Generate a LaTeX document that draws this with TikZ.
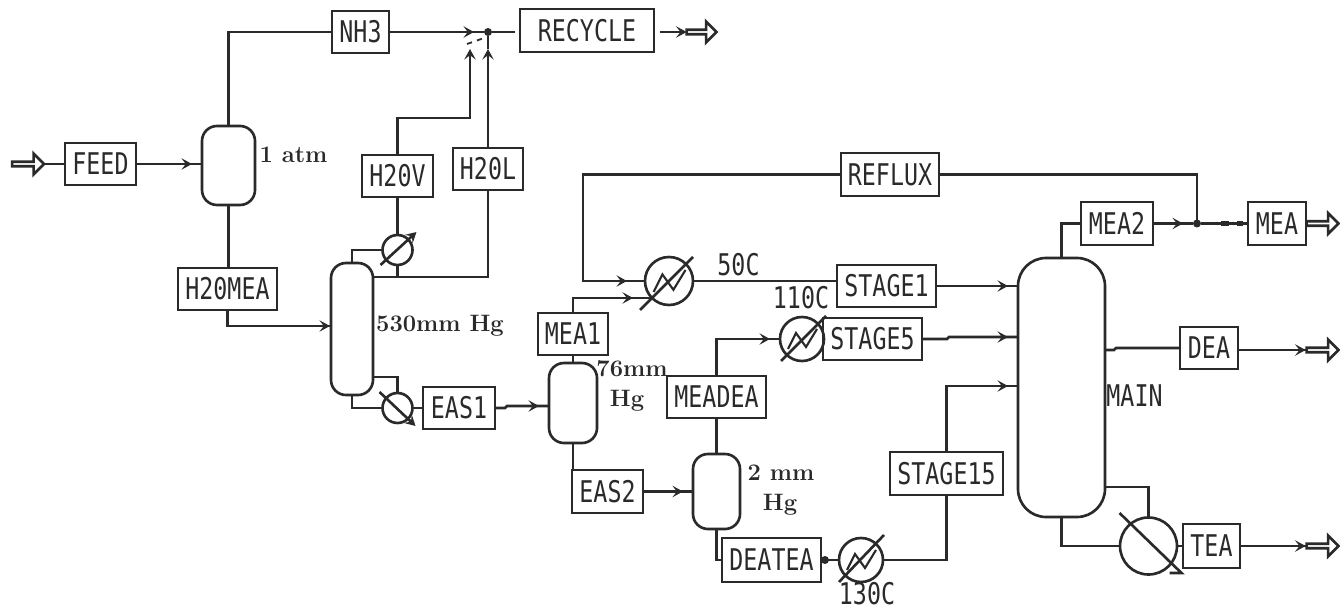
\documentclass[tikz,border=0pt]{standalone}
\usepackage{fontspec}
\usepackage{xcolor}
\usepackage{tikz}
\usetikzlibrary{calc, arrows.meta, shapes.arrows, decorations.markings}
\newfontfamily\boxfont[FakeStretch=0.78]{DejaVu Sans Mono}
\definecolor{inkline}{HTML}{2A2A2A}
\tikzset{
    every node/.append style={font=\boxfont\fontsize{17}{19}\selectfont, text=inkline},
    tag/.style 2 args={draw, inner sep=0pt, outer sep=0pt, minimum width=#1*0.02cm, minimum height=#2*0.02cm},
    vessel/.style 2 args={tag={#1}{#2}, rounded corners=0.3cm},
    cooler/.style={draw, circle, inner sep=0pt, outer sep=0pt, minimum size=#1*0.02cm},
    hollow/.style 2 args={draw, single arrow, inner sep=0pt, outer sep=0pt, minimum height=#1*0.02cm, minimum width=#2*0.02cm, single arrow head extend=0.1cm},
    joint/.style={fill=inkline, circle, inner sep=0pt, outer sep=0pt, minimum size=0.16cm},
    serif/.style={font=\rmfamily\bfseries\fontsize{13.5}{15}\selectfont},
    tipat/.style={postaction={decorate}, decoration={markings, mark=at position #1 with {\arrow{>}}}},
}

\begin{document}
\begin{tikzpicture}[x=0.02cm, y=-0.02cm, >={Stealth[length=6pt,width=6.5pt,inset=2.5pt]}, line width=1.5pt, draw=inkline]
    \useasboundingbox (0,0) rectangle (1340,608);
    \fill[white] (0,0) rectangle (1340,608);

    \node[tag={71}{42}] (feed) at (100.5,164) {FEED};
    \node[tag={57}{42}] (nhthree) at (360.5,32) {NH3};
    \node[tag={134}{43}] (recycle) at (587,30.5) {RECYCLE};
    \node[tag={71}{42}] (waterV) at (397.5,176) {H20V};
    \node[tag={70}{42}] (waterL) at (488,169) {H20L};
    \node[tag={99}{42}] (watermea) at (227.5,289) {H20MEA};
    \node[tag={72}{42}] (easOne) at (459,408) {EAS1};
    \node[tag={70}{42}] (meaOne) at (573,334) {MEA1};
    \node[tag={99}{42}] (meadea) at (716.5,397) {MEADEA};
    \node[tag={71}{43}] (easTwo) at (607.5,491.5) {EAS2};
    \node[tag={99}{44}] (deatea) at (771.5,560) {DEATEA};
    \node[tag={113}{43}] (stageC) at (946.5,473.5) {STAGE15};
    \node[tag={99}{42}] (stageA) at (886.5,286) {STAGE1};
    \node[tag={99}{42}] (stageB) at (872.5,339) {STAGE5};
    \node[tag={98}{43}] (reflux) at (890,174.5) {REFLUX};
    \node[tag={72}{43}] (meaTwo) at (1117,223.5) {MEA2};
    \node[tag={58}{43}] (mea) at (1277,223.5) {MEA};
    \node[tag={58}{42}] (dea) at (1209,348) {DEA};
    \node[tag={57}{44}] (tea) at (1211.5,546) {TEA};

    \node[vessel={53}{79}] (drumA) at (228.5,165.5) {};
    \node[vessel={42}{132}] (colA) at (352,329) {};
    \node[vessel={48}{80}] (drumB) at (573,403) {};
    \node[vessel={47}{75}] (drumC) at (716.5,491.5) {};
    \node[vessel={87}{259}, rounded corners=0.56cm] (main) at (1061.5,387.5) {};

    \node[cooler=48] (hxA) at (669,281) {};
    \node[cooler=44] (hxB) at (802,339) {};
    \node[cooler=44] (hxC) at (861,560) {};
    \node[cooler=30] (rbA) at (397.5,250) {};
    \node[cooler=30] (rbB) at (397.5,408) {};
    \node[cooler=57] (rbC) at (1148.5,546) {};

    \node[hollow={32}{21}] (arrFeed) at (27,164) {};
    \node[hollow={30}{21}] (arrRec) at (700.5,32) {};
    \node[hollow={32}{21}] (arrMea) at (1321.5,223.5) {};
    \node[hollow={32}{21}] (arrDea) at (1321.5,350) {};
    \node[hollow={32}{21}] (arrTea) at (1321.5,546) {};

    \node[joint] (mix) at (488,32) {};
    \node[joint] (split) at (1197,223.5) {};
    \node[joint] (deaDot) at (825,560) {};
    \coordinate (recEnd) at (515,32);
    \coordinate (recOut) at (660,32);
    \coordinate (mixV) at (470,49);
    \coordinate (mixL) at (488,49);

    \foreach \nm/\k in {hxA/1.1, hxB/1, hxC/1} {
        \draw[line width=1.2pt] ($(\nm)+(-14*\k,10*\k)$) -- ($(\nm)+(-6*\k,-6*\k)$) -- ($(\nm)+(4*\k,8*\k)$) -- ($(\nm)+(15*\k,-10*\k)$);
    }
    \draw ($(hxA)+(24,-24)$) -- ($(hxA)+(-29,29)$);
    \draw ($(hxB)+(24,-23)$) -- ($(hxB)+(-21,22)$);
    \draw ($(hxC)+(23,-25)$) -- ($(hxC)+(-22,22)$);
    \draw[->] ($(rbA)+(-17,15)$) -- ($(rbA)+(19,-18)$);
    \draw[->] ($(rbB)+(-18,-16)$) -- ($(rbB)+(18,18)$);
    \draw ($(rbC)+(-29,-33)$) -- ($(rbC)+(33,27)$) -- ($(rbC)+(21,27)$);

    \draw[tipat=-0.2cm] (feed.east) -- (feed.east -| drumA.west);
    \draw (arrFeed.east) -- (feed.west);
    \draw (drumA.north) |- (nhthree.west);
    \draw (drumA.south) -- (drumA.south |- watermea.north);
    \draw[tipat=-0.02cm] (watermea.south) |- (0,326 -| colA.west);
    \draw[tipat=-0.2cm] (nhthree.east) -- (mix);
    \draw (mix) -- (recEnd);
    \draw[->] (recOut) -- (arrRec.west);
    \draw[->] (waterV.north) -- ++(0,-37) -| (mixV);
    \draw[->] (waterL.north) -- (mixL);
    \draw (mixL) -- (mix);
    \draw[line width=1pt, dashed] (467,44) -- (484,38);
    \draw (waterV.south) -- (rbA.north);
    \draw (rbA.south) -- (397.5,277);
    \draw (colA.north) |- (rbA.west);
    \draw ($(colA.north east)+(0,14)$) -| (waterL.south);
    \draw ($(colA.south east)+(0,-18)$) -| (rbB.north);
    \draw (colA.south) |- (rbB.west);
    \draw (rbB.east) -- (easOne.west);
    \draw[tipat=-0.2cm] (easOne.east) -- ++(10,0) -- ++(2,-2) -- (0,406 -| drumB.west);
    \draw (drumB.north) -- (meaOne.south);
    \draw[tipat=-0.38cm] (meaOne.north) |- (hxA.south west);
    \draw (drumB.south) -- (drumB.south |- easTwo.north);
    \draw[tipat=-0.2cm] (easTwo.east) -- (easTwo.east -| drumC.west);
    \draw (drumC.north) -- (drumC.north |- meadea.south);
    \draw[tipat=-0.2cm] (meadea.north) |- (hxB.west);
    \draw (drumC.south) |- (deatea.west);
    \draw (deatea.east) -- (hxC.west);
    \draw (hxC.east) -| (stageC.south);
    \draw[tipat=-0.2cm] (stageC.north) |- (0,386 -| main.west);
    \draw[tipat=-0.36cm] (reflux.west) -| (583,281) -- (hxA.west);
    \draw (hxA.east) -- (hxA.east -| stageA.west);
    \draw[tipat=-0.2cm] (stageA.east) -- (stageA.east -| main.west);
    \draw[tipat=-0.2cm] (stageB.east) -- ++(25,0) -- ++(2,-2) -- (0,337 -| main.west);
    \draw (hxB.east) -- (stageB.west);
    \draw (reflux.east) -| (split);
    \draw (main.north) |- (meaTwo.west);
    \draw[tipat=-0.2cm] (meaTwo.east) -- (split);
    \draw (split) -- (mea.west);
    \draw[line width=2.6pt] (1221,223.5) -- (1229,223.5) (1237,223.5) -- (1243,223.5);
    \draw (mea.east) -- (arrMea.west);
    \draw ($(main.east)+(0,-37.5)$) -- ++(9,0) -- ++(2,-2) -- (dea.west);
    \draw[tipat=-0.02cm] (dea.east |- arrDea.west) -- (arrDea.west);
    \draw ($(main.south east)+(0,-30)$) -| (rbC.north);
    \draw (main.south) |- (rbC.west);
    \draw (rbC.east) -- (tea.west);
    \draw[tipat=-0.02cm] (tea.east) -- (arrTea.west);

    \node[serif] (lblDrumA) at (293.5,155) {1 atm};
    \node[serif] (lblColA) at (440,326) {530mm Hg};
    \node[serif] (lblDrumB) at (632,369) {76mm};
    \node[serif] (lblDrumBb) at (627,401) {Hg};
    \node[serif] (lblDrumC) at (781,473) {2 mm};
    \node[serif] (lblDrumCb) at (780,505) {Hg};
    \node (lblHxA) at (738.5,265) {50C};
    \node (lblHxB) at (801,298) {110C};
    \node[inner sep=0pt, text depth=0pt] (lblHxC) at (867,593) {130C};
    \node (lblMain) at (1134.5,396) {MAIN};
\end{tikzpicture}
\end{document}
